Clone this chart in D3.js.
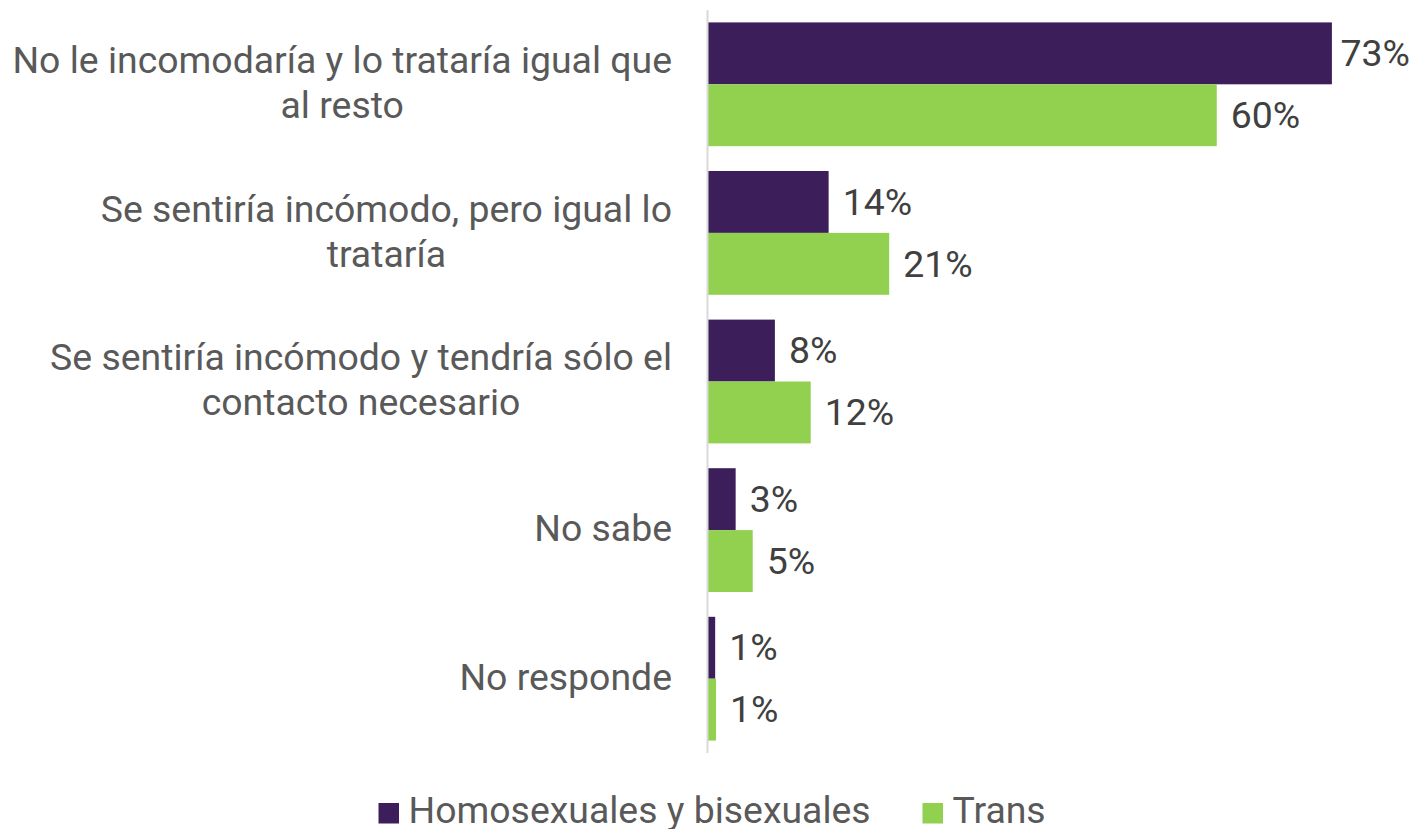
<!DOCTYPE html>
<html>
<head>
<meta charset="utf-8">
<script src="https://cdn.jsdelivr.net/npm/d3@7/dist/d3.min.js"></script>
<style>
  html, body { margin: 0; padding: 0; background: #ffffff; }
  svg { display: block; font-family: Roboto, "Noto Sans", sans-serif; }
</style>
</head>
<body>
<svg id="chart" width="1415" height="829"></svg>
<script>
// ---- data ----
const categories = [
  ["No le incomodaría y lo trataría igual que", "al resto"],
  ["Se sentiría incómodo, pero igual lo", "trataría"],
  ["Se sentiría incómodo y tendría sólo el", "contacto necesario"],
  ["No sabe"],
  ["No responde"]
];
const seriesNames = ["Homosexuales y bisexuales", "Trans"];
const homoBi = [73.2, 14.2, 7.9, 3.3, 0.9];
const trans = [59.7, 21.3, 12.1, 5.3, 1.0];
const seriesColors = ["#3c1f5a", "#92d050"];

// ---- layout ----
const plot = { left: 707.5, top: 10, bottom: 753, rightMax: 1410 };
const FS = 37.4;
const labelRight = 672;

const svg = d3.select("#chart");
const catIdx = d3.range(categories.length);

const y = d3.scaleBand()
  .domain(catIdx)
  .range([plot.top, plot.bottom])
  .paddingInner(0.167)
  .paddingOuter(0.0835);

const ySub = d3.scaleBand()
  .domain([0, 1])
  .range([0, y.bandwidth()]);

const x = d3.scaleLinear()
  .domain([0, 80])
  .range([plot.left, plot.left + 682.4]);

const series = [homoBi, trans];

// bars
const groups = svg.append("g").selectAll("g")
  .data(catIdx)
  .join("g")
  .attr("transform", i => `translate(0,${y(i)})`);

groups.selectAll("rect")
  .data(i => series.map((s, k) => ({ k, v: s[i] })))
  .join("rect")
  .attr("x", x(0))
  .attr("y", d => ySub(d.k))
  .attr("width", d => x(d.v) - x(0))
  .attr("height", ySub.bandwidth())
  .attr("fill", d => seriesColors[d.k]);

// value labels
const fmt = v => Math.round(v) + "%";
groups.selectAll("text.val")
  .data(i => series.map((s, k) => ({ k, v: s[i] })))
  .join("text")
  .attr("class", "val")
  .attr("y", d => ySub(d.k) + ySub.bandwidth() / 2)
  .attr("dy", "0.34em")
  .attr("font-size", FS)
  .attr("fill", "#404040")
  .text(d => fmt(d.v))
  .each(function(d) {
    const w = this.getComputedTextLength();
    const xx = Math.min(x(d.v) + 14, plot.rightMax - w);
    d3.select(this).attr("x", xx);
  });

// axis line (category axis)
const yAxis = d3.axisLeft(y).tickSize(0).tickFormat("");
const ax = svg.append("g").attr("transform", `translate(${plot.left},0)`).call(yAxis);
ax.select(".domain").attr("stroke", "#d9d9d9").attr("stroke-width", 2)
  .attr("d", `M0,${plot.top}V${plot.bottom}`);

// category labels: multi-line blocks, lines centred, block right-aligned
const lineH = 45;
svg.append("g").selectAll("text")
  .data(catIdx)
  .join("text")
  .attr("text-anchor", "middle")
  .attr("font-size", FS)
  .attr("fill", "#595959")
  .each(function(i) {
    const lines = categories[i];
    const cy = y(i) + y.bandwidth() / 2;
    const t = d3.select(this);
    const spans = lines.map((ln, j) =>
      t.append("tspan")
        .attr("y", cy + (j - (lines.length - 1) / 2) * lineH)
        .attr("dy", "0.3em")
        .text(ln)
    );
    const maxW = d3.max(spans, s => s.node().getComputedTextLength());
    spans.forEach(s => s.attr("x", labelRight - maxW / 2));
  });

// legend
const legend = svg.append("g");
const legendItems = [
  { name: seriesNames[0], color: seriesColors[0], x: 378.5 },
  { name: seriesNames[1], color: seriesColors[1], x: 922.5 }
];
legendItems.forEach(it => {
  legend.append("rect")
    .attr("x", it.x).attr("y", 803).attr("width", 20.5).attr("height", 20.5)
    .attr("fill", it.color);
  legend.append("text")
    .attr("x", it.x + 30).attr("y", 823)
    .attr("font-size", FS).attr("fill", "#595959")
    .text(it.name);
});
</script>
</body>
</html>
